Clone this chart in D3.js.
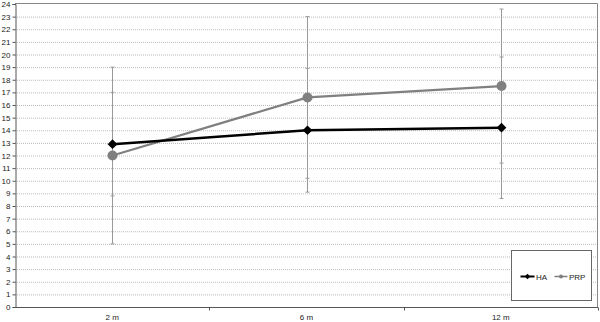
<!DOCTYPE html>
<html>
<head>
<meta charset="utf-8">
<script src="https://cdn.jsdelivr.net/npm/d3@7"></script>
<style>
  body { margin: 0; background: #fff; }
  svg { font-family: "Liberation Sans", Arial, sans-serif; }
  .grid line { stroke: #bbb; stroke-dasharray: 1,1; }
</style>
</head>
<body>
<script>
// Chart data
var categories = ["2 m", "6 m", "12 m"];
var haValues = [12.9, 14.0, 14.2];
var haErr = [4.1, 4.9, 5.6];
var prpValues = [12.0, 16.6, 17.5];
var prpErr = [7.0, 6.4, 6.1];
var yTicks = d3.range(0, 25);

var svg_width = 600, svg_height = 322;
var margin = { top: 4, right: 2, bottom: 15, left: 15 };

var svg = d3.select("body").append("svg")
    .attr("width", svg_width)
    .attr("height", svg_height);

var x = d3.scaleBand()
    .domain(categories)
    .range([margin.left, svg_width - margin.right]);

var y = d3.scaleLinear()
    .domain([0, 24])
    .range([svg_height - margin.bottom, margin.top]);

// Gridlines
svg.append("g")
    .attr("class", "grid")
    .selectAll("line")
    .data(yTicks.filter(function(d) { return d > 0 && d < 24; }))
    .enter().append("line")
    .attr("x1", margin.left)
    .attr("x2", svg_width - margin.right)
    .attr("y1", function(d) { return y(d) + 0.5; })
    .attr("y2", function(d) { return y(d) + 0.5; });

// Plot border top/right
svg.append("path")
    .attr("d", "M" + margin.left + "," + (y(24) - 0.5) + "H" + (svg_width - margin.right - 0.5) + "V" + y(0))
    .attr("fill", "none")
    .attr("stroke", "#888")
    .attr("stroke-width", 1);

// Y axis
var yAxis = svg.append("g")
    .attr("transform", "translate(" + (margin.left + 0.5) + ",0)")
    .call(d3.axisLeft(y).tickValues(yTicks).tickSize(3).tickPadding(2));
yAxis.selectAll("text").attr("font-size", 8).attr("fill", "#222")
    .attr("font-family", "Liberation Sans, Arial, sans-serif");
yAxis.selectAll("line, path").attr("stroke", "#555");

// X axis
var xAxis = svg.append("g")
    .attr("transform", "translate(0," + (y(0) + 0.5) + ")");
xAxis.append("line")
    .attr("x1", margin.left)
    .attr("x2", svg_width - margin.right)
    .attr("stroke", "#555");
xAxis.selectAll(".tk")
    .data(categories)
    .enter().append("line")
    .attr("class", "tk")
    .attr("x1", function(d) { return Math.round(x(d) + x.bandwidth()) + 0.5; })
    .attr("x2", function(d) { return Math.round(x(d) + x.bandwidth()) + 0.5; })
    .attr("y1", 0)
    .attr("y2", 3)
    .attr("stroke", "#555");
xAxis.selectAll("text")
    .data(categories)
    .enter().append("text")
    .attr("x", function(d) { return x(d) + x.bandwidth() / 2; })
    .attr("y", 12)
    .attr("text-anchor", "middle")
    .attr("font-size", 8)
    .attr("fill", "#222")
    .text(function(d) { return d; });

function cx(i) { return Math.round(x(categories[i]) + x.bandwidth() / 2) + 0.5; }

// Error bars
function drawErrors(vals, errs) {
    var g = svg.append("g").attr("stroke", "#999").attr("stroke-width", 1);
    vals.forEach(function(v, i) {
        g.append("line")
            .attr("x1", cx(i)).attr("x2", cx(i))
            .attr("y1", y(v + errs[i])).attr("y2", y(v - errs[i]));
        [v + errs[i], v - errs[i]].forEach(function(e) {
            g.append("line")
                .attr("x1", cx(i) - 2).attr("x2", cx(i) + 2)
                .attr("y1", y(e)).attr("y2", y(e));
        });
    });
}
drawErrors(haValues, haErr);
drawErrors(prpValues, prpErr);

var line = d3.line()
    .x(function(d, i) { return cx(i); })
    .y(function(d) { return y(d); });

// PRP series
svg.append("path")
    .datum(prpValues)
    .attr("d", line)
    .attr("fill", "none")
    .attr("stroke", "#808080")
    .attr("stroke-width", 2.2);
svg.selectAll(".prp")
    .data(prpValues)
    .enter().append("circle")
    .attr("class", "prp")
    .attr("cx", function(d, i) { return cx(i); })
    .attr("cy", function(d) { return y(d); })
    .attr("r", 5)
    .attr("fill", "#808080");

// HA series
svg.append("path")
    .datum(haValues)
    .attr("d", line)
    .attr("fill", "none")
    .attr("stroke", "#000")
    .attr("stroke-width", 2.5);
var diamond = d3.symbol().type(d3.symbolDiamond2).size(60);
svg.selectAll(".ha")
    .data(haValues)
    .enter().append("path")
    .attr("class", "ha")
    .attr("d", diamond)
    .attr("transform", function(d, i) { return "translate(" + cx(i) + "," + y(d) + ")"; })
    .attr("fill", "#000");

// Legend
var legend = svg.append("g").attr("transform", "translate(511.5,250.5)");
legend.append("rect")
    .attr("width", 80).attr("height", 50)
    .attr("fill", "#fff").attr("stroke", "#666");
legend.append("line")
    .attr("x1", 9).attr("x2", 23).attr("y1", 26).attr("y2", 26)
    .attr("stroke", "#000").attr("stroke-width", 2);
legend.append("path")
    .attr("d", d3.symbol().type(d3.symbolDiamond2).size(20))
    .attr("transform", "translate(16,26)")
    .attr("fill", "#000");
legend.append("text")
    .attr("x", 24.5).attr("y", 29)
    .attr("font-size", 8).attr("fill", "#222")
    .text("HA");
legend.append("line")
    .attr("x1", 43).attr("x2", 56).attr("y1", 26).attr("y2", 26)
    .attr("stroke", "#808080").attr("stroke-width", 1.5);
legend.append("circle")
    .attr("cx", 49.5).attr("cy", 26).attr("r", 2)
    .attr("fill", "#808080");
legend.append("text")
    .attr("x", 57.5).attr("y", 29)
    .attr("font-size", 8).attr("fill", "#222")
    .text("PRP");
</script>
</body>
</html>
